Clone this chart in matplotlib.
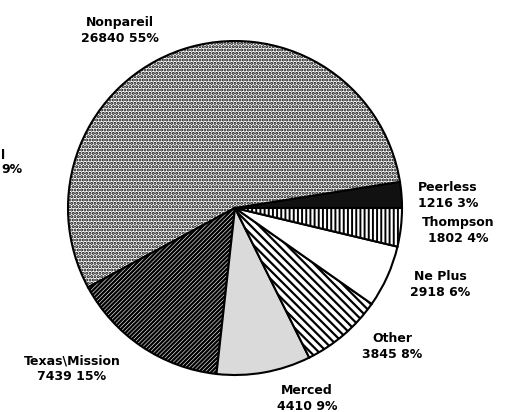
import matplotlib.pyplot as plt
import numpy as np

plt.rcParams['font.family'] = ['DejaVu Sans']
plt.rcParams['hatch.linewidth'] = 1.0

# almond varieties, drawn counterclockwise from 3 o'clock
names = ['Peerless', 'Nonpareil', 'Texas\\Mission', 'Merced', 'Other', 'Ne Plus', 'Thompson']
values = [1216, 26840, 7439, 4410, 3845, 2918, 1802]

fills = ['#111111', 'white', 'white', '#dadada', 'white', 'white', 'white']
hatches = [None, '.....', '////////', None, '\\\\\\\\', None, '||||']
hatch_lw = [1, 1.5, 1.7, 1, 1.6, 1, 1.4]

# label centres in pixels (from left, from top)
label_px = [(448, 195), (120, 30), (72, 369), (307, 398), (392, 346), (440, 285), (458, 230)]

W, H = 505, 412
cx, cy, R = 235, 208, 167

fig = plt.figure(figsize=(W / 100, H / 100), dpi=100)
ax = fig.add_axes([0, 0, 1, 1])

total = sum(values)
wedges, _ = ax.pie(values, startangle=0, counterclock=True, radius=1,
                   colors=fills,
                   wedgeprops=dict(edgecolor='black', linewidth=1.5))
for w, h, lw in zip(wedges, hatches, hatch_lw):
    if h:
        w.set_hatch(h)
        if hasattr(w, 'set_hatch_linewidth'):
            w.set_hatch_linewidth(lw)

def px(x, y):
    return (x - cx) / R, (cy - y) / R

for name, v, (lx, ly) in zip(names, values, label_px):
    pct = round(100 * v / total)
    ax.text(*px(lx, ly), f"{name}\n{v} {pct}%", ha='center', va='center',
            fontsize=9, fontweight='bold', linespacing=1.3)

# fragment of a label at the left edge of the scan
ax.text(*px(1, 155), "l", ha='left', va='center', fontsize=9, fontweight='bold')
ax.text(*px(23, 169), "9%", ha='right', va='center', fontsize=9, fontweight='bold')

ax.set_xlim(-cx / R, (W - cx) / R)
ax.set_ylim(-(H - cy) / R, cy / R)
ax.set_aspect('auto')
ax.axis('off')

fig.savefig('out.png', dpi=100)
